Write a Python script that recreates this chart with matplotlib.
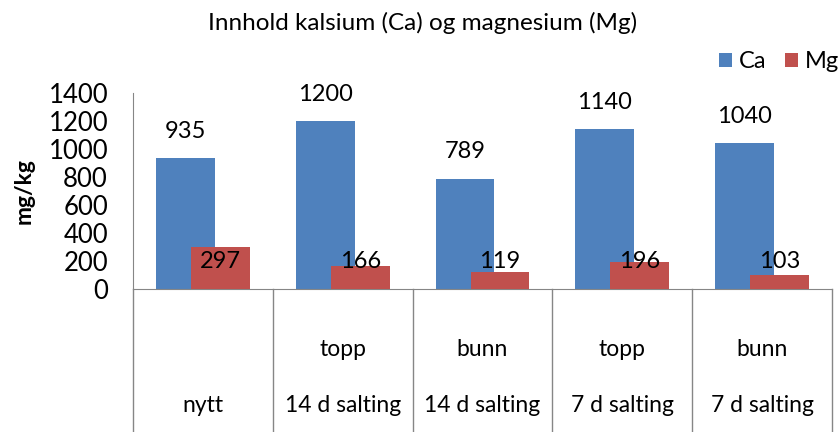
import numpy as np
import matplotlib.pyplot as plt

plt.rcParams["font.family"] = ["Lato", "DejaVu Sans"]

groups = ["nytt", "14 d salting", "14 d salting", "7 d salting", "7 d salting"]
positions = ["", "topp", "bunn", "topp", "bunn"]
ca = [935, 1200, 789, 1140, 1040]
mg = [297, 166, 119, 196, 103]

ca_color = "#4F81BD"
mg_color = "#C0504D"
line_color = "#868686"

fig = plt.figure(figsize=(8.39, 4.32), dpi=100)
ax = fig.add_axes([133 / 839, 143 / 432, 699 / 839, 196 / 432])

x = np.arange(len(ca))
w = 0.42
off = 0.125
ax.bar(x - off, ca, w, color=ca_color, label="Ca", zorder=2)
ax.bar(x + off, mg, w, color=mg_color, label="Mg", zorder=3)

for xi, v in zip(x, ca):
    ax.text(xi - off, v + 190, str(v), ha="center", va="center", fontsize=17)
for xi, v in zip(x, mg):
    ax.text(xi + off, 195, str(v), ha="center", va="center", fontsize=17, zorder=4)

ax.set_xlim(-0.5, len(ca) - 0.5)
ax.set_ylim(0, 1400)
ax.set_yticks(range(0, 1401, 200))
ax.tick_params(axis="y", length=0, labelsize=18.5, pad=18)
ax.set_xticks([])
for s in ["top", "right"]:
    ax.spines[s].set_visible(False)
ax.spines["left"].set_color(line_color)
ax.spines["bottom"].set_color(line_color)
ax.set_ylabel("mg/kg", fontsize=16.5, fontweight="bold", labelpad=10)

# category boxes below the axis
tr = ax.get_xaxis_transform()
bottom = -150 / 196
for d in np.arange(-0.5, len(ca), 1.0):
    ax.plot([d, d], [0, bottom], color=line_color, lw=1, transform=tr, clip_on=False)
for xi, (g, p) in enumerate(zip(groups, positions)):
    ax.text(xi, -60 / 196, p, transform=tr, ha="center", va="center", fontsize=16.5)
    ax.text(xi, -116 / 196, g, transform=tr, ha="center", va="center", fontsize=16.5)

fig.text(423 / 839, 1 - 23 / 432, "Innhold kalsium (Ca) og magnesium (Mg)",
         ha="center", va="center", fontsize=17.5)
fig.legend(loc="center", bbox_to_anchor=(779 / 839, 1 - 62 / 432), ncol=2,
           frameon=False, fontsize=17, handlelength=0.55, handleheight=0.55,
           handletextpad=0.3, columnspacing=0.8)

fig.savefig("out.png", dpi=100)
